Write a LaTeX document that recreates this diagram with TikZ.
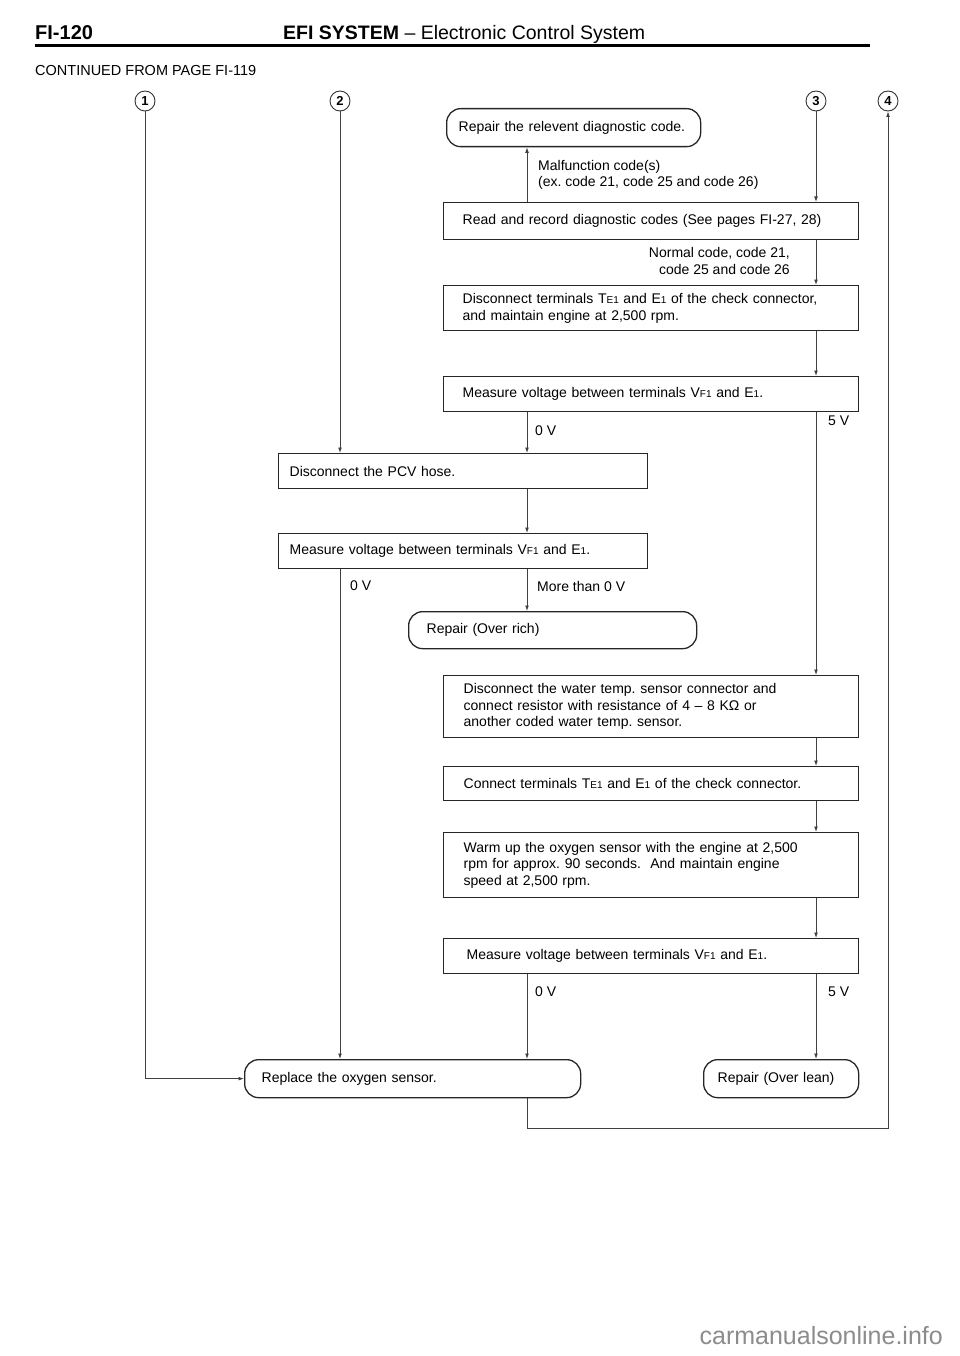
\documentclass[tikz,border=0pt]{standalone}
\usepackage{fontspec}
\setmainfont{Liberation Sans}
\newfontfamily\hdfont{Liberation Sans}
\usetikzlibrary{arrows.meta}
\newcommand\sm[1]{{\fontsize{10}{10}\selectfont #1}}
\frenchspacing
\begin{document}
\begin{tikzpicture}[x=1pt,y=-1pt,
  txt/.style={font=\fontsize{14}{16.5}\selectfont},
  box/.style={txt, draw=black!85, line width=1.3pt, anchor=north west, inner ysep=0pt, align=left},
  rbox/.style={box, rounded corners=14pt},
  arr/.style={draw=black!75, line width=0.8pt, -{Latex[length=5.5pt,width=3.8pt]}},
  lbl/.style={txt, inner sep=0pt},
  circ/.style={circle, draw=black!80, line width=0.9pt, inner sep=0pt, minimum size=20pt, font=\fontsize{13}{13}\selectfont\bfseries}]

\path[use as bounding box, fill=white] (0,0) rectangle (960,1356);

% header
\node[anchor=base west, inner sep=0pt, font=\hdfont\fontsize{20}{20}\selectfont\bfseries] (pg) at (35,40) {FI-120};
\node[anchor=base west, inner sep=0pt, font=\hdfont\fontsize{19.5}{20}\selectfont] (title) at (283,40) {\textbf{EFI SYSTEM} – Electronic Control System};
\draw[line width=3pt] (35,46) -- (870,46);
\node[anchor=base west, inner sep=0pt, font=\hdfont\fontsize{14.5}{15}\selectfont] (cont) at (35,76) {CONTINUED FROM PAGE FI-119};

% entry circles
\node[circ] (n1) at (145,101) {1};
\node[circ] (n2) at (340,101) {2};
\node[circ] (n3) at (816,101) {3};
\node[circ] (n4) at (888,101) {4};
\coordinate (xM) at (527,0);
\coordinate (bot) at (0,1128);

% boxes
\node[rbox, inner xsep=12pt, text width=230pt, minimum height=38pt] (rep1) at (446,108) {\mbox{Repair the relevent diagnostic code.}};
\node[box, inner xsep=19pt, text width=377pt, minimum height=37pt] (read) at (443,202) {Read and record diagnostic codes (See pages FI-27, 28)};
\node[box, inner xsep=19pt, text width=377pt, minimum height=45pt] (disc) at (443,285) {Disconnect terminals T\sm{E1} and E\sm{1} of the check connector,\\and maintain engine at 2,500 rpm.};
\node[box, inner xsep=19pt, text width=377pt, minimum height=35pt] (meas1) at (443,376) {Measure voltage between terminals V\sm{F1} and E\sm{1}.};
\node[box, inner xsep=11pt, text width=347pt, minimum height=35pt] (pcv) at (278,453) {Disconnect the PCV hose.};
\node[box, inner xsep=11pt, text width=347pt, minimum height=35pt] (meas2) at (278,533) {Measure voltage between terminals V\sm{F1} and E\sm{1}.};
\node[rbox, inner xsep=18pt, text width=252pt, minimum height=37pt] (rich) at (408,611) {Repair (Over rich)};
\node[box, inner xsep=20pt, text width=375pt, minimum height=62pt] (water) at (443,675) {Disconnect the water temp. sensor connector and\\connect resistor with resistance of 4 – 8 KΩ or\\another coded water temp. sensor.};
\node[box, inner xsep=20pt, text width=375pt, minimum height=34pt] (conn) at (443,766) {Connect terminals T\sm{E1} and E\sm{1} of the check connector.};
\node[box, inner xsep=20pt, text width=375pt, minimum height=65pt] (warm) at (443,832) {Warm up the oxygen sensor with the engine at 2,500\\rpm for approx. 90 seconds.\ \ And maintain engine\\speed at 2,500 rpm.};
\node[box, inner xsep=23pt, text width=369pt, minimum height=35pt] (meas3) at (443,938) {Measure voltage between terminals V\sm{F1} and E\sm{1}.};
\node[rbox, inner xsep=17pt, text width=302pt, minimum height=38pt] (repl) at (244,1059) {Replace the oxygen sensor.};
\node[rbox, inner xsep=14pt, text width=127pt, minimum height=38pt] (lean) at (703,1059) {Repair (Over lean)};

% labels
\node[lbl, anchor=west] (m1) at (538,167) {Malfunction code(s)};
\node[lbl, anchor=west] (m2) at (538,183) {(ex. code 21, code 25 and code 26)};
\node[lbl, anchor=east] (nc1) at (790,253) {Normal code, code 21,};
\node[lbl, anchor=east] (nc2) at (790,269) {code 25 and code 26};
\node[lbl, anchor=west] (v0a) at (535,431) {0 V};
\node[lbl, anchor=west] (v5a) at (828,421) {5 V};
\node[lbl, anchor=west] (v0b) at (350,586) {0 V};
\node[lbl, anchor=west] (more) at (537,586) {More than 0 V};
\node[lbl, anchor=west] (v0c) at (535,992) {0 V};
\node[lbl, anchor=west] (v5c) at (828,992) {5 V};

% connectors
\draw[arr] (n1.south) |- (repl.west);
\draw[arr] (n2.south) -- (n2.south |- pcv.north);
\draw[arr] (n3.south) -- (n3.south |- read.north);
\draw[arr] (read.north -| xM) -- (rep1.south -| xM);
\draw[arr] (read.south -| n3) -- (disc.north -| n3);
\draw[arr] (disc.south -| n3) -- (meas1.north -| n3);
\draw[arr] (meas1.south -| xM) -- (pcv.north -| xM);
\draw[arr] (meas1.south -| n3) -- (water.north -| n3);
\draw[arr] (pcv.south -| xM) -- (meas2.north -| xM);
\draw[arr] (meas2.south -| n2) -- (repl.north -| n2);
\draw[arr] (meas2.south -| xM) -- (rich.north -| xM);
\draw[arr] (water.south -| n3) -- (conn.north -| n3);
\draw[arr] (conn.south -| n3) -- (warm.north -| n3);
\draw[arr] (warm.south -| n3) -- (meas3.north -| n3);
\draw[arr] (meas3.south -| xM) -- (repl.north -| xM);
\draw[arr] (meas3.south -| n3) -- (lean.north -| n3);
\draw[arr] (repl.south -| xM) |- (bot -| n4) -- (n4.south);

% watermark
\node[anchor=east, inner sep=0pt, text=black!45, font=\hdfont\fontsize{25}{25}\selectfont] (wm) at (943,1336) {carmanualsonline.info};
\end{tikzpicture}
\end{document}
